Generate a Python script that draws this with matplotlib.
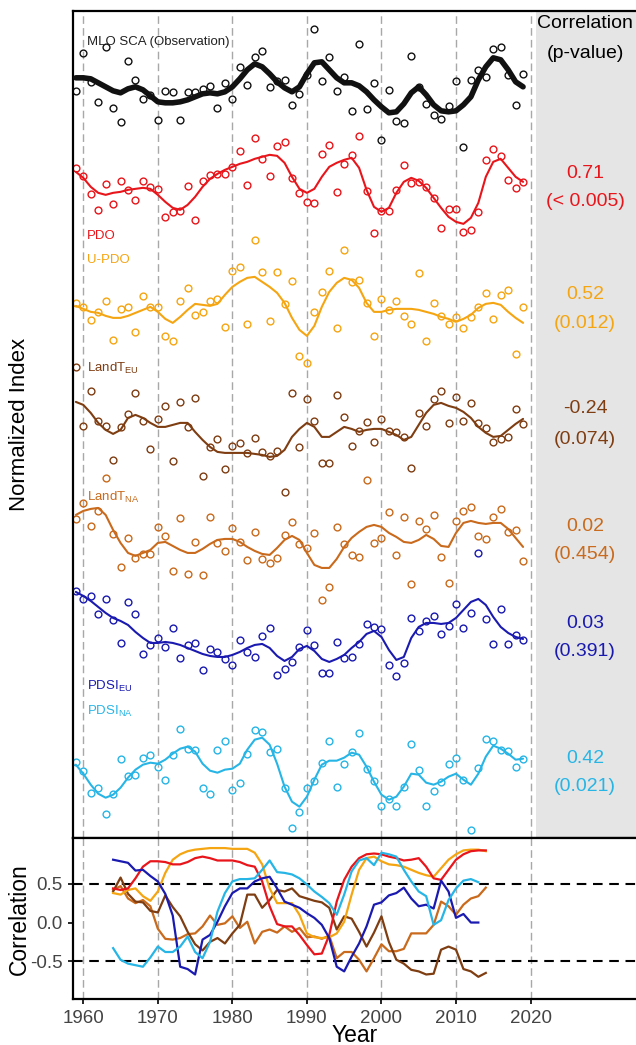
import numpy as np
import matplotlib
matplotlib.use("Agg")
import matplotlib.pyplot as plt

plt.rcParams['font.family'] = ['Liberation Sans', 'DejaVu Sans']
plt.rcParams['mathtext.fontset'] = 'custom'
plt.rcParams['mathtext.rm'] = 'Liberation Sans'
plt.rcParams['mathtext.it'] = 'Liberation Sans:italic'
plt.rcParams['mathtext.bf'] = 'Liberation Sans:bold'

# ---------------- data ----------------
years = list(range(1959, 2020))

mlo_obs = [-0.1, 3.7, 0.8, -1.2, 4.3, -1.8, -3.2, 2.9, 1.0, -0.9,
           -0.5, -3.0, -0.1, -0.2, -3.0, -0.2, -0.2, 0.1, 0.4, -1.8,
           0.7, -0.9, 2.3, 0.5, 3.3, 3.9, 0.3, 0.9, 1.0, -1.5,
           -0.4, 1.5, 6.1, 0.9, 3.3, -0.1, 1.3, -2.1, 4.6, -1.9,
           0.7, -5.0, 0.0, -3.1, -3.3, 3.4, 0.3, -1.4, -2.5, -2.9,
           -1.6, 0.9, -5.7, 1.0, 2.0, 1.3, 4.1, 4.3, 1.5, -1.5,
           1.6]
mlo_smooth = [1.2, 1.2, 1.1, 0.7, 0.3, -0.1, -0.3, 0.1, 0.3, 0.0,
              -0.6, -1.2, -1.3, -1.3, -1.2, -1.0, -0.7, -0.4, -0.3, -0.4,
              -0.2, 0.3, 1.1, 2.0, 2.6, 2.3, 1.6, 0.8, 0.2, -0.2,
              0.3, 1.6, 2.7, 2.8, 2.0, 1.2, 0.7, 0.7, 0.4, -0.2,
              -1.0, -1.7, -2.3, -2.2, -1.4, -0.3, 0.3, -0.5, -1.5, -2.1,
              -2.2, -2.1, -1.5, -0.7, 1.0, 2.3, 3.2, 3.0, 2.0, 0.8,
              0.3]

pdo_obs = [2.2, 1.4, -0.4, -2.0, 0.6, -1.4, 0.9, 0.0, -1.0, 0.9,
           0.3, 0.1, -2.7, -2.2, -2.1, 0.4, -3.0, 0.9, 1.5, 1.6,
           1.6, 2.3, 3.9, 0.5, 5.2, 3.1, 1.4, 4.4, 4.8, 1.2,
           -0.3, -1.2, -1.3, 3.6, 4.5, -0.2, 2.6, 3.5, 5.4, -0.1,
           -4.3, -2.1, -2.1, 0.0, 2.5, 0.7, 0.8, 0.3, -0.8, -3.8,
           -1.9, -1.9, -4.2, -4.0, -2.2, 3.0, 4.1, 3.4, 1.0, 0.2,
           0.8]
pdo_smooth = [1.8, 1.2, 0.3, -0.3, -0.5, -0.3, -0.2, 0.0, 0.1, 0.2,
              0.1, -0.5, -1.2, -1.8, -2.0, -1.5, -0.7, 0.3, 1.1, 1.6,
              2.0, 2.3, 2.6, 2.8, 3.1, 3.3, 3.5, 3.4, 2.7, 1.3,
              0.1, -0.3, 0.1, 1.3, 2.3, 2.7, 3.0, 3.2, 2.2, 0.0,
              -1.7, -2.2, -1.8, -0.3, 0.8, 1.2, 0.9, 0.2, -0.8, -1.8,
              -2.7, -3.2, -3.4, -2.8, -1.3, 1.3, 2.8, 3.1, 2.2, 1.3,
              0.8]

updo_obs = [0.7, 0.3, -1.0, -0.2, 0.9, -3.0, 0.1, 0.3, -2.2, 1.4,
            0.3, 0.3, -2.6, -3.1, 0.9, 2.2, -0.5, -0.2, 0.9, 1.1,
            -1.7, 3.9, 4.3, -1.4, 7.0, 3.8, -1.1, 3.8, 0.6, 2.9,
            -4.6, -5.3, -0.2, 1.8, 3.9, -1.8, 6.0, 2.8, 3.0, 0.7,
            -2.6, 1.1, 0.0, 0.9, -0.6, -1.4, 3.7, -3.1, 0.7, -0.6,
            -1.4, -0.7, -1.8, -0.7, 0.3, 1.7, -0.9, 1.5, 2.0, -4.4,
            0.3]
updo_smooth = [0.4, 0.1, -0.2, -0.3, -0.6, -0.8, -0.8, -0.6, -0.3, 0.0,
               0.3, -0.2, -0.9, -1.3, -0.7, 0.0, 0.6, 0.5, 0.4, 0.6,
               1.5, 2.3, 2.8, 3.2, 3.3, 2.8, 2.3, 1.7, 0.7, -0.8,
               -2.0, -2.6, -1.6, 0.3, 1.8, 2.7, 3.2, 3.0, 2.2, 0.7,
               -0.2, -0.2, 0.0, 0.1, 0.1, 0.1, 0.0, -0.2, -0.4, -0.7,
               -0.9, -1.2, -0.9, -0.5, 0.2, 0.6, 0.7, 0.5, -0.2, -0.8,
               -1.3]

landt_eu_obs = [5.8, -0.1, 3.4, 0.4, -0.1, -3.5, -0.2, 1.1, 3.2, 0.4,
                -2.4, 0.6, 1.9, -3.6, 2.3, -0.2, 2.7, -5.1, -2.2, -1.4,
                -4.4, -2.1, -1.8, -2.8, -1.3, -2.7, -3.1, -2.6, -6.7, 3.2,
                -2.2, 2.6, 0.4, -3.8, -3.8, 3.0, 0.8, -2.1, -0.6, 0.3,
                -1.7, 0.6, -0.6, -0.7, -1.2, -4.3, 1.2, -0.1, 2.6, 3.4,
                0.2, 2.8, 0.4, 2.2, 0.2, -0.3, -1.7, -1.4, -1.2, 1.6,
                0.1]
landt_eu_smooth = [2.3, 2.0, 1.2, 0.2, -0.5, -0.9, -0.5, 0.7, 1.0, 0.7,
                   0.2, -0.2, -0.2, 0.0, 0.2, 0.2, -0.7, -1.5, -2.2, -2.7,
                   -2.8, -2.8, -2.8, -2.8, -2.9, -3.0, -3.2, -3.1, -2.5, -1.2,
                   -0.4, 0.2, -0.2, -1.2, -1.2, -0.7, -0.2, -0.4, -0.7, -0.5,
                   -0.4, -0.4, -0.7, -1.0, -1.5, -1.2, 0.0, 1.2, 2.0, 2.2,
                   1.9, 1.7, 1.3, 0.7, -0.2, -0.8, -1.2, -1.1, -0.5, 0.1,
                   0.6]

landt_na_obs = [2.1, 3.7, 1.4, 2.9, 6.2, 0.6, -2.7, 0.2, -1.8, -1.4,
                -1.4, 1.3, 0.4, -3.1, 2.2, -3.4, -0.2, -3.5, 2.3, -0.3,
                -1.1, 1.2, -0.2, -2.0, 0.8, -1.9, -2.3, -1.8, 0.5, 1.8,
                -0.4, -0.8, 0.7, -6.0, -4.7, 1.3, -0.4, -1.5, -1.7, 6.0,
                -0.3, 0.2, 2.8, -1.5, 2.3, -4.4, 1.9, 1.1, 2.5, -1.7,
                -4.3, 1.9, 2.9, 3.3, 0.4, 0.1, 2.3, 3.1, 0.8, 1.0,
                -2.1]
landt_na_smooth = [2.5, 2.9, 3.1, 3.2, 2.5, 1.0, -0.3, -1.3, -1.6, -1.3,
                   -1.0, -0.3, -0.2, -0.6, -1.0, -1.3, -1.3, -0.9, -0.4, 0.0,
                   0.1, 0.1, -0.2, -0.7, -1.1, -1.4, -1.5, -0.8, 0.0, 0.4,
                   0.0, -1.3, -2.5, -2.8, -2.8, -1.9, -0.7, 0.2, 0.8, 1.3,
                   1.5, 1.3, 0.7, 0.3, -0.2, -0.3, 0.0, 0.5, 0.1, -0.6,
                   -0.7, 0.7, 1.7, 1.9, 1.7, 1.6, 1.7, 1.7, 1.1, 0.2,
                   -0.7]

pdsi_eu_obs = [4.9, 4.1, 4.4, 2.6, 4.1, 2.0, -0.3, 3.8, 2.6, -1.4,
               -0.5, 0.2, -0.7, 1.2, -1.8, -0.5, -0.3, -3.0, -0.9, -1.2,
               -1.9, -2.5, 0.0, -1.2, -1.7, 0.4, 1.2, -3.5, -2.9, -2.2,
               -0.7, 1.0, -0.5, -3.3, -3.3, -0.2, -1.8, -1.7, -0.4, 1.6,
               1.3, 1.1, -2.5, -3.6, -2.3, 2.2, 0.9, 1.9, 2.4, 0.6,
               1.4, 3.6, 1.2, 2.7, 8.7, 2.1, -0.4, 3.1, -0.4, 0.5,
               0.0]
pdsi_eu_smooth = [4.8, 4.4, 3.9, 3.3, 2.7, 2.2, 1.9, 1.5, 0.8, 0.2,
                  -0.3, -0.3, -0.2, -0.3, -0.5, -0.8, -1.1, -1.4, -1.6, -1.7,
                  -1.7, -1.5, -1.2, -0.8, -0.5, -0.4, -0.8, -1.6, -2.1, -1.7,
                  -0.9, -0.6, -1.1, -1.9, -2.2, -1.9, -1.5, -0.8, -0.2, 0.6,
                  0.9, 0.3, -1.0, -2.0, -1.7, 0.2, 1.3, 1.7, 1.7, 1.6,
                  1.7, 2.2, 3.0, 3.8, 4.1, 3.5, 2.3, 1.3, 0.7, 0.3,
                  0.1]

pdsi_na_obs = [0.5, -0.4, -2.6, -2.1, -4.7, -2.7, 0.8, -0.9, -0.8, 0.9,
               1.2, 0.0, -1.3, 1.2, 3.8, 1.8, 1.7, -2.1, -2.7, 1.7,
               2.6, -2.3, -1.6, 1.3, 3.7, 3.5, 1.5, 1.8, -2.1, -6.1,
               -4.5, -2.1, -1.4, 0.4, 2.6, -2.0, 0.3, 1.5, 3.4, -0.2,
               -1.4, -3.9, -3.2, -3.9, -2.0, 2.3, -0.3, -3.9, -2.4, -1.5,
               0.3, 0.9, -1.3, -6.3, -0.1, 2.8, 2.6, 1.7, 1.6, 0.0,
               0.8]
pdsi_na_smooth = [0.2, -0.7, -1.8, -2.7, -3.1, -2.8, -2.1, -1.1, -0.3, 0.2,
                  0.4, 0.3, 0.7, 1.3, 1.8, 2.0, 1.5, 0.3, -0.4, -0.6,
                  -0.3, -0.2, 0.3, 1.7, 2.7, 2.9, 2.2, 0.3, -2.0, -3.5,
                  -4.0, -3.0, -1.3, 0.2, 0.6, 0.6, 0.9, 1.4, 1.2, 0.0,
                  -1.5, -2.8, -3.3, -3.0, -2.0, -0.7, -0.8, -1.6, -1.8, -1.5,
                  -1.0, -0.7, -1.3, -1.8, -0.7, 1.0, 2.1, 1.8, 1.3, 0.7,
                  0.8]

corr_values = ['0.71', '0.52', '-0.24', '0.02', '0.03', '0.42']
p_values = ['(< 0.005)', '(0.012)', '(0.074)', '(0.454)', '(0.391)', '(0.021)']

# running correlations (bottom panel)
years_run_a = list(range(1964, 2015))
years_run_b = list(range(1964, 2014))
run_pdo = [0.44, 0.42, 0.44, 0.57, 0.72, 0.79, 0.79, 0.78, 0.75, 0.75,
           0.78, 0.83, 0.85, 0.83, 0.80, 0.80, 0.80, 0.78, 0.74, 0.72,
           0.53, 0.21, -0.02, -0.05, -0.05, -0.16, -0.29, -0.41, -0.40, -0.16,
           0.27, 0.55, 0.72, 0.83, 0.88, 0.89, 0.88, 0.85, 0.83, 0.80,
           0.81, 0.83, 0.72, 0.57, 0.55, 0.68, 0.81, 0.88, 0.92, 0.93,
           0.93]
run_updo = [0.38, 0.36, 0.42, 0.44, 0.34, 0.28, 0.40, 0.64, 0.81, 0.88,
            0.92, 0.94, 0.95, 0.96, 0.96, 0.96, 0.95, 0.95, 0.95, 0.90,
            0.75, 0.44, 0.25, 0.25, 0.25, 0.10, -0.14, -0.19, -0.20, -0.19,
            -0.14, 0.01, 0.36, 0.68, 0.83, 0.85, 0.79, 0.75, 0.74, 0.72,
            0.68, 0.64, 0.61, 0.59, 0.70, 0.81, 0.88, 0.93, 0.94, 0.94,
            0.92]
run_landt_eu = [0.40, 0.58, 0.37, 0.27, 0.26, 0.15, 0.13, 0.35, 0.20, 0.08,
                -0.12, -0.28, -0.36, -0.25, -0.20, -0.27, -0.14, -0.03, 0.36, 0.36,
                0.19, 0.29, 0.42, 0.40, 0.44, 0.34, 0.31, 0.28, 0.26, 0.19,
                -0.09, 0.08, 0.05, -0.12, -0.31, -0.13, 0.08, -0.25, -0.48, -0.53,
                -0.61, -0.63, -0.67, -0.66, -0.35, -0.31, -0.35, -0.60, -0.63, -0.70,
                -0.65]
run_landt_na = [0.42, 0.47, 0.31, 0.25, 0.29, 0.21, -0.08, -0.21, -0.22, -0.20,
                -0.15, -0.14, -0.05, 0.09, -0.03, -0.01, 0.08, -0.07, 0.01, -0.27,
                -0.12, -0.09, -0.13, -0.05, -0.12, -0.07, -0.19, -0.18, -0.21, -0.17,
                -0.46, -0.38, -0.38, -0.48, -0.63, -0.46, -0.28, -0.37, -0.37, -0.34,
                -0.14, -0.14, -0.14, -0.03, 0.27, 0.21, 0.10, 0.23, 0.31, 0.34,
                0.45]
run_pdsi_eu = [0.81, 0.79, 0.77, 0.67, 0.68, 0.60, 0.53, 0.37, 0.09, -0.57,
               -0.60, -0.67, -0.22, -0.16, 0.01, 0.21, 0.38, 0.44, 0.44, 0.53,
               0.57, 0.59, 0.44, 0.27, 0.23, 0.19, 0.12, 0.06, -0.03, -0.20,
               -0.57, -0.63, -0.44, -0.27, -0.05, 0.23, 0.26, 0.35, 0.38, 0.45,
               0.31, 0.21, 0.23, 0.18, 0.54, 0.40, 0.06, 0.11, 0.00, 0.00]
run_pdsi_na = [-0.33, -0.48, -0.53, -0.55, -0.57, -0.45, -0.31, -0.38, -0.38, -0.31,
               -0.18, -0.38, -0.46, -0.25, 0.14, 0.38, 0.53, 0.56, 0.56, 0.57,
               0.68, 0.80, 0.65, 0.64, 0.62, 0.57, 0.49, 0.40, 0.33, 0.25,
               0.10, 0.36, 0.66, 0.80, 0.83, 0.74, 0.90, 0.88, 0.85, 0.68,
               0.53, 0.40, 0.34, -0.03, 0.03, 0.29, 0.44, 0.54, 0.56, 0.52]

# ---------------- styling ----------------
C_BLACK = '#111111'
C_RED = '#e8151b'
C_ORANGE = '#f5a511'
C_BROWN = '#7f3d12'
C_OBROWN = '#c96a1c'
C_BLUE = '#1a1ab0'
C_CYAN = '#27b5e6'

offsets = [74.75, 64.75, 52.75, 41.25, 29.75, 19.75, 7.08]
series = [
    (mlo_obs, mlo_smooth, C_BLACK, 4.0),
    (pdo_obs, pdo_smooth, C_RED, 1.5),
    (updo_obs, updo_smooth, C_ORANGE, 1.5),
    (landt_eu_obs, landt_eu_smooth, C_BROWN, 1.5),
    (landt_na_obs, landt_na_smooth, C_OBROWN, 1.5),
    (pdsi_eu_obs, pdsi_eu_smooth, C_BLUE, 1.5),
    (pdsi_na_obs, pdsi_na_smooth, C_CYAN, 1.5),
]

W_PX, H_PX = 636, 1045
fig = plt.figure(figsize=(W_PX / 100, H_PX / 100), dpi=100)
left = 73.3 / W_PX
ax = fig.add_axes([left, 1 - 837.5 / H_PX, 1 - left, (837.5 - 11.3) / H_PX])
ax2 = fig.add_axes([left, 1 - 999.3 / H_PX, 1 - left, (999.3 - 838.0) / H_PX])

XL = (1958.66, 2034.15)
grid_years = [1960, 1970, 1980, 1990, 2000, 2010, 2020]

# top panel
ax.set_xlim(*XL)
ax.set_ylim(0, 82.6)
ax.axvspan(2020.8, XL[1], color='#e5e5e5', lw=0, zorder=0)
for gy in grid_years:
    ax.axvline(gy, color='#a8a8a8', lw=1.0, ls=(0, (5.5, 3)), zorder=0.5)
for (obs, sm, col, lw), off in zip(series, offsets):
    ax.plot(years, np.array(obs) + off, 'o', mfc='none', mec=col, ms=4.9, mew=1.0, zorder=2)
    ax.plot(years, np.array(sm) + off, '-', color=col, lw=lw, zorder=3,
            solid_joinstyle='round', solid_capstyle='round')

ax.set_xticks([])
ax.set_yticks([])
for s in ['top', 'left', 'bottom']:
    ax.spines[s].set_linewidth(1.6)
ax.spines['right'].set_visible(False)

lx = 1960.45
lab_fs = 9.5
ax.text(lx, 79.25, 'MLO SCA (Observation)', color='#222222', fontsize=lab_fs, va='baseline')
ax.text(lx, 59.8, 'PDO', color=C_RED, fontsize=lab_fs, va='baseline')
ax.text(lx, 57.4, 'U-PDO', color=C_ORANGE, fontsize=lab_fs, va='baseline')
ax.text(lx, 46.5, r'LandT$_{\mathregular{EU}}$', color=C_BROWN, fontsize=lab_fs, va='baseline')
ax.text(lx, 33.7, r'LandT$_{\mathregular{NA}}$', color=C_OBROWN, fontsize=lab_fs, va='baseline')
ax.text(lx, 14.75, r'PDSI$_{\mathregular{EU}}$', color=C_BLUE, fontsize=lab_fs, va='baseline')
ax.text(lx, 12.25, r'PDSI$_{\mathregular{NA}}$', color=C_CYAN, fontsize=lab_fs, va='baseline')

rx = 2027.3
ax.text(rx, 81.4, 'Correlation', fontsize=14, ha='center', va='center', color='black')
ax.text(rx, 78.4, '(p-value)', fontsize=14, ha='center', va='center', color='black')
text_cols = [C_RED, C_ORANGE, C_BROWN, C_OBROWN, C_BLUE, C_CYAN]
text_y = [(66.4, 63.6), (54.25, 51.4), (42.9, 39.75), (31.1, 28.25), (21.4, 18.6), (7.9, 5.1)]
for cv, pv, col, (y1, y2) in zip(corr_values, p_values, text_cols, text_y):
    ax.text(rx, y1, cv, fontsize=14, ha='center', va='center', color=col)
    ax.text(rx, y2, pv, fontsize=14, ha='center', va='center', color=col)

ax.set_ylabel('Normalized Index', fontsize=16, va='center')
ax.yaxis.set_label_coords(-0.095, 0.5)

# bottom panel
ax2.set_xlim(*XL)
ax2.set_ylim(-0.99, 1.09)
for gy in grid_years:
    ax2.axvline(gy, color='#a8a8a8', lw=1.0, ls=(0, (5.5, 3)), zorder=0.5)
for hv in (0.5, -0.5):
    ax2.axhline(hv, color='black', lw=1.5, ls=(0, (4.6, 3.2)), zorder=1)

ax2.plot(years_run_a, run_landt_na, color=C_OBROWN, lw=1.6, zorder=2)
ax2.plot(years_run_a, run_landt_eu, color=C_BROWN, lw=1.6, zorder=2)
ax2.plot(years_run_a, run_updo, color=C_ORANGE, lw=1.6, zorder=2)
ax2.plot(years_run_a, run_pdo, color=C_RED, lw=1.6, zorder=2)
ax2.plot(years_run_b, run_pdsi_eu, color=C_BLUE, lw=1.6, zorder=2)
ax2.plot(years_run_b, run_pdsi_na, color=C_CYAN, lw=1.6, zorder=2)

ax2.set_xticks(grid_years)
ax2.set_xticklabels([str(g) for g in grid_years])
ax2.set_yticks([-0.5, 0.0, 0.5])
ax2.set_yticklabels(['-0.5', '0.0', '0.5'])
ax2.tick_params(axis='both', direction='out', length=3.5, width=1.2,
                labelsize=13.5, labelcolor='#444444', pad=4)
for s in ['top', 'left', 'bottom']:
    ax2.spines[s].set_linewidth(1.6)
ax2.spines['right'].set_visible(False)
ax2.set_ylabel('Correlation', fontsize=16.5, va='center')
ax2.yaxis.set_label_coords(-0.095, 0.5)
ax2.set_xlabel('Year', fontsize=16.5, va='center')
ax2.xaxis.set_label_coords(0.5, -0.222)

fig.savefig('out.png', dpi=100)
